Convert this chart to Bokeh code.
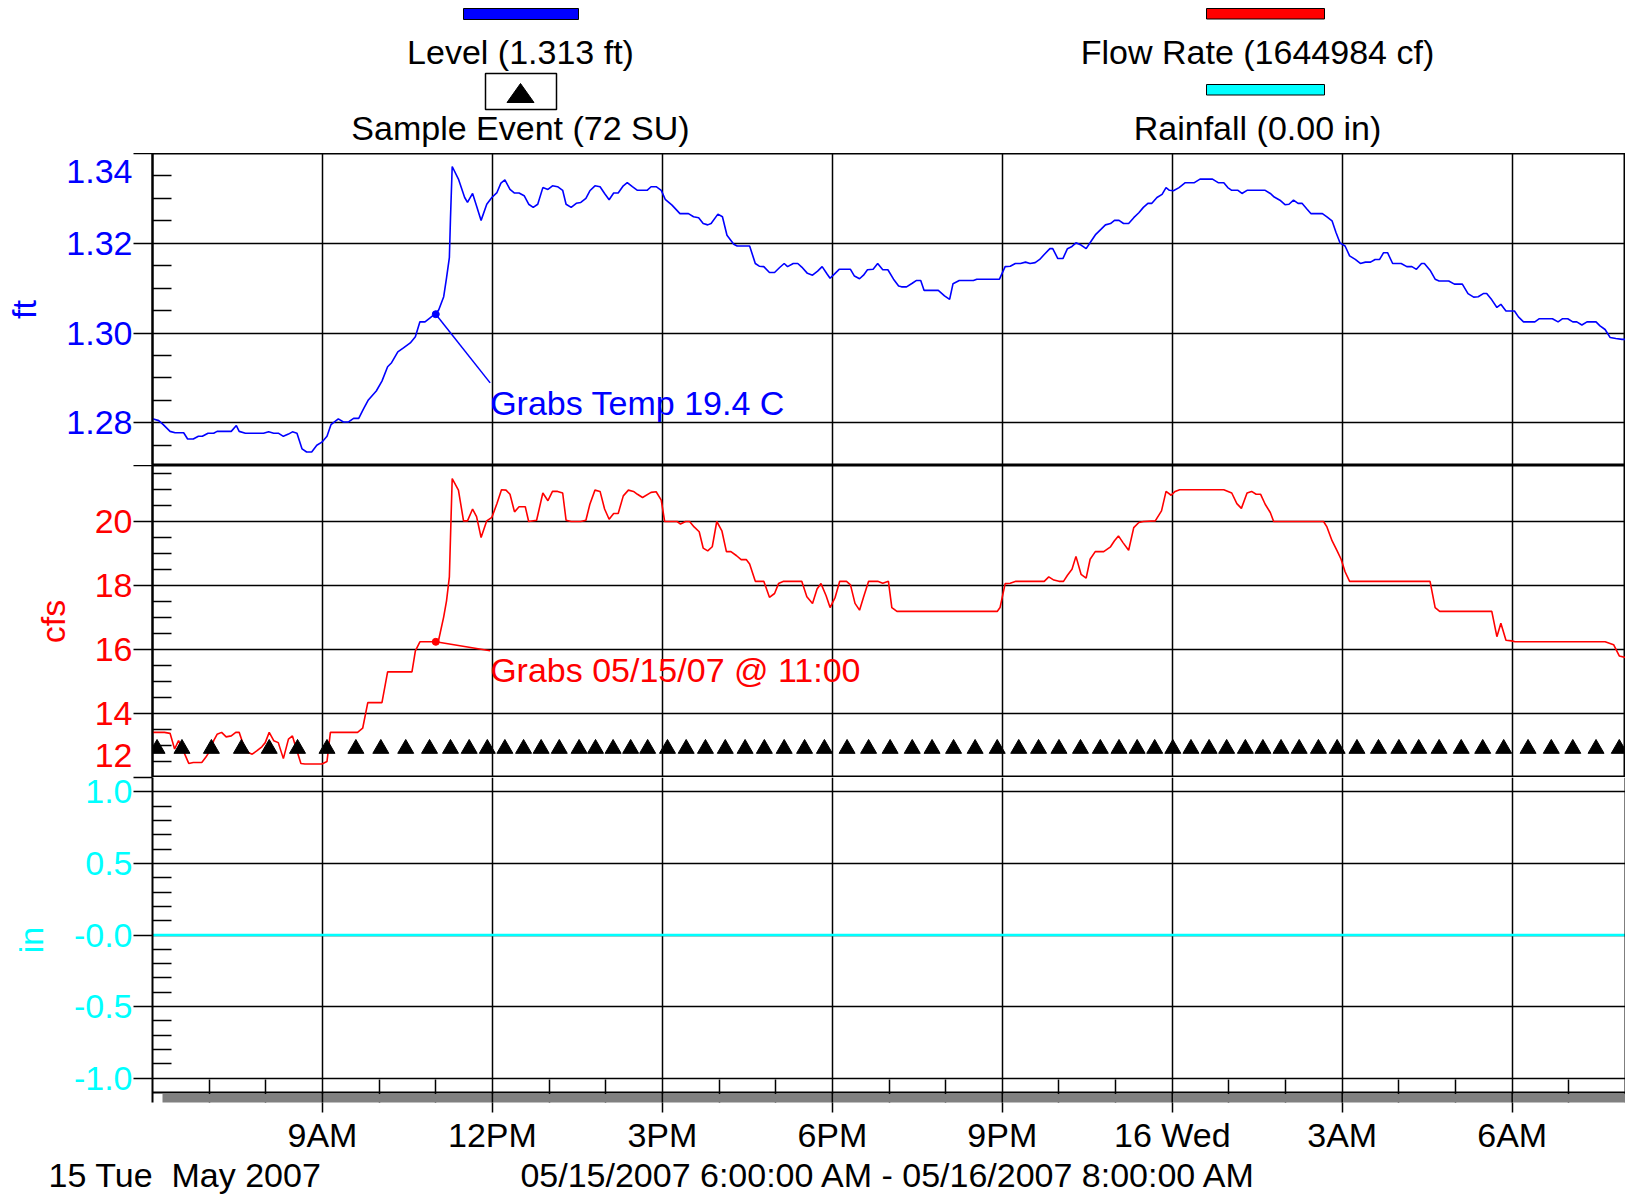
import pandas as pd
from bokeh.plotting import figure
from bokeh.layouts import column
from bokeh.models import Range1d, FixedTicker, LinearAxis, Grid, Span
from bokeh.core.properties import value
from bokeh.embed import file_html
from bokeh.resources import INLINE

# ---------------- data ----------------
start_time = "2007-05-15 06:00"
end_hours = 26.0

level_hours = [0.00, 0.11, 0.19, 0.31, 0.40, 0.55, 0.62, 0.72, 0.81, 0.88, 0.98, 1.08, 1.14, 1.39, 1.48, 1.53,
               1.64, 1.96, 2.05, 2.14, 2.22, 2.31, 2.40, 2.47, 2.55, 2.64, 2.72, 2.81, 2.90, 2.99, 3.08, 3.15,
               3.28, 3.37, 3.46, 3.55, 3.64, 3.72, 3.81, 3.95, 4.05, 4.15, 4.22, 4.33, 4.43, 4.55, 4.64, 4.72,
               4.81, 4.90, 4.98, 5.05, 5.14, 5.19, 5.24, 5.26, 5.29, 5.40, 5.51, 5.56, 5.65, 5.72, 5.80, 5.90,
               5.99, 6.08, 6.15, 6.22, 6.31, 6.39, 6.47, 6.56, 6.64, 6.72, 6.80, 6.89, 6.98, 7.06, 7.15, 7.24,
               7.30, 7.39, 7.48, 7.56, 7.65, 7.72, 7.81, 7.90, 7.98, 8.06, 8.14, 8.22, 8.31, 8.38, 8.47, 8.56,
               8.73, 8.80, 8.89, 8.98, 9.05, 9.17, 9.31, 9.46, 9.55, 9.64, 9.72, 9.80, 9.86, 9.98, 10.06, 10.14,
               10.26, 10.32, 10.54, 10.64, 10.71, 10.79, 10.89, 10.98, 11.07, 11.15, 11.21, 11.31, 11.39, 11.46,
               11.56, 11.65, 11.74, 11.82, 11.91, 11.96, 12.04, 12.12, 12.32, 12.39, 12.48, 12.55, 12.62, 12.72,
               12.80, 12.89, 12.98, 13.08, 13.17, 13.22, 13.31, 13.41, 13.48, 13.56, 13.62, 13.87, 13.98, 14.07,
               14.13, 14.24, 14.49, 14.55, 14.95, 15.05, 15.14, 15.23, 15.32, 15.41, 15.49, 15.58, 15.66, 15.74,
               15.84, 15.89, 15.98, 16.07, 16.15, 16.23, 16.30, 16.39, 16.48, 16.57, 16.65, 16.74, 16.82, 16.91,
               16.98, 17.06, 17.14, 17.23, 17.32, 17.41, 17.49, 17.57, 17.64, 17.73, 17.82, 17.89, 17.95, 18.02,
               18.12, 18.23, 18.39, 18.49, 18.71, 18.81, 18.91, 18.98, 19.05, 19.16, 19.23, 19.32, 19.64, 19.73,
               19.80, 19.90, 19.99, 20.06, 20.14, 20.22, 20.29, 20.38, 20.45, 20.65, 20.73, 20.82, 20.89, 20.96,
               21.05, 21.13, 21.23, 21.32, 21.41, 21.50, 21.58, 21.66, 21.73, 21.80, 21.89, 22.04, 22.14, 22.23,
               22.31, 22.40, 22.45, 22.55, 22.64, 22.71, 22.88, 22.98, 23.12, 23.22, 23.32, 23.40, 23.49, 23.55,
               23.64, 23.73, 23.80, 23.89, 24.04, 24.11, 24.20, 24.40, 24.48, 24.71, 24.81, 24.89, 24.98, 25.07,
               25.14, 25.23, 25.32, 25.48, 25.55, 25.64, 25.73, 25.83, 25.94, 26.00]
level_ft = [1.2809, 1.2805, 1.2796, 1.2781, 1.2778, 1.2778, 1.2764, 1.2764, 1.2770, 1.2770, 1.2777, 1.2777, 1.2781, 1.2781, 1.2794, 1.2781,
            1.2777, 1.2777, 1.2780, 1.2777, 1.2777, 1.2770, 1.2775, 1.2780, 1.2777, 1.2742, 1.2735, 1.2735, 1.2750, 1.2757, 1.2770, 1.2796,
            1.2809, 1.2802, 1.2802, 1.2810, 1.2810, 1.2830, 1.2851, 1.2871, 1.2893, 1.2925, 1.2934, 1.2958, 1.2967, 1.2978, 1.2992, 1.3025,
            1.3025, 1.3034, 1.3042, 1.3051, 1.3081, 1.3123, 1.3168, 1.3257, 1.3371, 1.3343, 1.3302, 1.3291, 1.3311, 1.3283, 1.3251, 1.3287,
            1.3302, 1.3313, 1.3334, 1.3341, 1.3320, 1.3312, 1.3312, 1.3306, 1.3287, 1.3280, 1.3287, 1.3324, 1.3320, 1.3328, 1.3326, 1.3318,
            1.3287, 1.3280, 1.3289, 1.3291, 1.3300, 1.3317, 1.3328, 1.3326, 1.3311, 1.3297, 1.3312, 1.3312, 1.3328, 1.3335, 1.3326, 1.3318,
            1.3318, 1.3326, 1.3326, 1.3318, 1.3298, 1.3285, 1.3266, 1.3266, 1.3259, 1.3257, 1.3244, 1.3241, 1.3244, 1.3265, 1.3259, 1.3218,
            1.3198, 1.3194, 1.3194, 1.3155, 1.3149, 1.3148, 1.3135, 1.3135, 1.3146, 1.3155, 1.3148, 1.3155, 1.3155, 1.3147,
            1.3133, 1.3129, 1.3138, 1.3148, 1.3131, 1.3122, 1.3132, 1.3142, 1.3142, 1.3127, 1.3121, 1.3129, 1.3141, 1.3142,
            1.3155, 1.3141, 1.3141, 1.3120, 1.3105, 1.3103, 1.3103, 1.3111, 1.3117, 1.3117, 1.3095, 1.3095, 1.3083, 1.3075,
            1.3110, 1.3117, 1.3117, 1.3120, 1.3120, 1.3148, 1.3149, 1.3155, 1.3155, 1.3158, 1.3155, 1.3157, 1.3164, 1.3175,
            1.3188, 1.3188, 1.3166, 1.3166, 1.3188, 1.3193, 1.3201, 1.3196, 1.3188, 1.3205, 1.3220, 1.3231, 1.3241, 1.3244,
            1.3251, 1.3251, 1.3244, 1.3244, 1.3257, 1.3268, 1.3280, 1.3289, 1.3289, 1.3302, 1.3309, 1.3324, 1.3318, 1.3317,
            1.3324, 1.3335, 1.3335, 1.3343, 1.3343, 1.3335, 1.3335, 1.3324, 1.3318, 1.3318, 1.3311, 1.3318, 1.3318, 1.3311,
            1.3303, 1.3296, 1.3286, 1.3287, 1.3296, 1.3289, 1.3289, 1.3276, 1.3266, 1.3266, 1.3259, 1.3250, 1.3224, 1.3201,
            1.3194, 1.3172, 1.3164, 1.3155, 1.3158, 1.3158, 1.3164, 1.3164, 1.3179, 1.3179, 1.3155, 1.3155, 1.3148, 1.3148,
            1.3142, 1.3155, 1.3155, 1.3140, 1.3120, 1.3116, 1.3116, 1.3109, 1.3109, 1.3088, 1.3080, 1.3081, 1.3088, 1.3088,
            1.3074, 1.3057, 1.3064, 1.3049, 1.3049, 1.3036, 1.3025, 1.3025, 1.3032, 1.3032, 1.3025, 1.3032, 1.3032, 1.3025,
            1.3025, 1.3018, 1.3025, 1.3025, 1.3016, 1.3008, 1.2990, 1.2988, 1.2986, 1.2986]

flow_hours = [0.00, 0.21, 0.31, 0.39, 0.46, 0.55, 0.64, 0.72, 0.87, 0.94, 1.02, 1.08, 1.14, 1.22, 1.30, 1.39,
              1.47, 1.53, 1.61, 1.69, 1.76, 1.84, 1.93, 1.99, 2.06, 2.14, 2.22, 2.31, 2.40, 2.47, 2.55, 2.62,
              2.69, 2.99, 3.08, 3.14, 3.62, 3.71, 3.80, 4.05, 4.15, 4.58, 4.64, 4.72, 4.98, 5.05, 5.14, 5.19,
              5.24, 5.27, 5.29, 5.40, 5.49, 5.56, 5.65, 5.72, 5.80, 5.90, 5.99, 6.08, 6.16, 6.24, 6.31, 6.39,
              6.47, 6.58, 6.64, 6.78, 6.89, 6.98, 7.06, 7.15, 7.24, 7.30, 7.39, 7.56, 7.65, 7.72, 7.81, 7.90,
              7.98, 8.06, 8.14, 8.22, 8.31, 8.40, 8.49, 8.56, 8.65, 8.80, 8.89, 8.98, 9.04, 9.26, 9.32, 9.41,
              9.48, 9.56, 9.65, 9.72, 9.80, 9.88, 9.96, 10.05, 10.13, 10.21, 10.31, 10.39, 10.48, 10.54, 10.64,
              10.79, 10.89, 10.98, 11.05, 11.14, 11.46, 11.55, 11.65, 11.73, 11.80, 11.89, 11.96, 12.05, 12.13,
              12.25, 12.32, 12.40, 12.48, 12.55, 12.64, 12.80, 12.89, 12.99, 13.05, 13.14, 14.91, 14.96, 15.05,
              15.14, 15.24, 15.74, 15.82, 15.91, 16.00, 16.08, 16.15, 16.23, 16.30, 16.39, 16.48, 16.55, 16.64,
              16.79, 16.91, 16.98, 17.05, 17.13, 17.23, 17.32, 17.41, 17.49, 17.70, 17.81, 17.89, 17.98, 18.05,
              18.13, 18.91, 19.05, 19.14, 19.22, 19.32, 19.40, 19.48, 19.56, 19.64, 19.73, 19.79, 20.67, 20.73,
              20.82, 20.91, 20.98, 21.05, 21.13, 22.55, 22.64, 22.72, 23.64, 23.73, 23.80, 23.89, 23.99, 24.05,
              25.64, 25.79, 25.89, 26.00]
flow_cfs = [13.41, 13.41, 13.38, 12.89, 13.15, 12.81, 12.44, 12.47, 12.47, 12.63, 12.85, 13.15, 13.35, 13.41, 13.27, 13.30,
            13.41, 13.41, 12.99, 12.78, 12.73, 12.83, 12.96, 13.09, 13.41, 13.15, 13.09, 12.59, 13.20, 13.30, 12.83, 12.44,
            12.42, 12.42, 12.50, 13.41, 13.41, 13.54, 14.34, 14.34, 15.30, 15.30, 15.96, 16.24, 16.24, 16.29, 17.02, 17.52,
            18.27, 20.13, 21.34, 20.98, 20.02, 20.02, 20.39, 20.15, 19.50, 20.02, 20.13, 20.56, 20.99, 20.98, 20.85, 20.30,
            20.46, 20.46, 20.00, 20.04, 20.89, 20.65, 20.94, 20.94, 20.89, 20.04, 20.00, 20.00, 20.04, 20.54, 20.98, 20.94,
            20.39, 20.07, 20.25, 20.25, 20.80, 20.98, 20.94, 20.85, 20.75, 20.91, 20.93, 20.67, 20.00, 20.00, 19.92, 20.00,
            20.00, 19.83, 19.68, 19.17, 19.08, 19.21, 20.00, 19.71, 19.06, 19.06, 18.93, 18.81, 18.81, 18.67, 18.13,
            18.13, 17.63, 17.75, 18.06, 18.13, 18.13, 17.65, 17.44, 17.89, 18.06, 17.68, 17.31, 17.63, 18.13,
            18.13, 18.02, 17.44, 17.23, 17.63, 18.13, 18.13, 18.07, 18.13, 17.31, 17.19, 17.19, 17.31, 18.06,
            18.07, 18.13, 18.13, 18.27, 18.17, 18.13, 18.13, 18.32, 18.51, 18.91, 18.35, 18.23, 18.82, 19.06,
            19.06, 19.21, 19.40, 19.55, 19.34, 19.10, 19.81, 19.97, 20.00, 20.02, 20.33, 20.94, 20.82, 20.94,
            20.99, 20.99, 20.89, 20.56, 20.41, 20.89, 20.94, 20.85, 20.85, 20.54, 20.28, 20.00, 20.00, 19.83,
            19.40, 19.08, 18.82, 18.43, 18.13, 18.13, 17.31, 17.19, 17.19, 16.40, 16.82, 16.29, 16.27, 16.24,
            16.24, 16.15, 15.80, 15.75]

rain_hours = [0.0, 26.0]
rain_in = [0.0, 0.0]

sample_hours = [0.08, 0.52, 1.04, 1.57, 2.06, 2.56, 3.08, 3.59, 4.03, 4.47, 4.89, 5.26, 5.59, 5.91, 6.22, 6.55,
                6.86, 7.18, 7.53, 7.82, 8.13, 8.44, 8.74, 9.09, 9.42, 9.76, 10.11, 10.46, 10.80, 11.15, 11.51,
                11.86, 12.26, 12.64, 13.02, 13.41, 13.76, 14.14, 14.52, 14.91, 15.29, 15.64, 16.00, 16.38, 16.73,
                17.06, 17.38, 17.69, 18.01, 18.33, 18.65, 18.96, 19.29, 19.60, 19.92, 20.24, 20.58, 20.91, 21.26,
                21.64, 22.00, 22.35, 22.71, 23.10, 23.48, 23.85, 24.28, 24.69, 25.07, 25.48, 25.89]

grab_hour = 5.0
grab_level_ft = 1.3042
grab_flow_cfs = 16.24
grab_notes = ["Grabs Temp 19.4 C", "Grabs 05/15/07 @ 11:00"]

legend_labels = ["Level (1.313 ft)", "Sample Event (72 SU)", "Flow Rate (1644984 cf)", "Rainfall (0.00 in)"]

level_ticks = [1.28, 1.30, 1.32, 1.34]
level_tick_labels = ["1.28", "1.30", "1.32", "1.34"]
flow_ticks = [12, 14, 16, 18, 20]
flow_tick_labels = ["12", "14", "16", "18", "20"]
rain_ticks = [-1.0, -0.5, 0.0, 0.5, 1.0]
rain_tick_labels = ["-1.0", "-0.5", "-0.0", "0.5", "1.0"]
time_tick_hours = [3, 6, 9, 12, 15, 18, 21, 24]
time_tick_labels = ["9AM", "12PM", "3PM", "6PM", "9PM", "16 Wed", "3AM", "6AM"]
captions = ["15 Tue\u00a0 May 2007", "05/15/2007 6:00:00 AM - 05/16/2007 8:00:00 AM"]

# ---------------- style / layout ----------------
W = 1625
FRAME_L = 152
LEG_H = 153
PANEL_H = 312
RAIN_FRAME_H = 330
RAIN_H = 1196 - LEG_H - 2 * PANEL_H
FONT = "Liberation Sans"
FS = "34px"
BLUE, RED, CYAN = "#0000ff", "#ff0000", "#00ffff"

level_range = (1.2705, 1.34)
flow_range = (12.0, 21.75)
rain_px_per_in = 72.7 / 0.5
rain_range = (1.1 - RAIN_FRAME_H / rain_px_per_in, 1.1)
rain_axis_at = -1.1
sample_marker_cfs = 12.9
note_hour = 5.96
level_note_y = 1.2886
flow_note_y = 15.96
caption_hours = [0.574, 13.0]
label_shift = {"level": 1.3359, "flow": 12.68}

T0 = pd.Timestamp(start_time)
MS_H = 3600000.0
t0ms = T0.value / 1e6


def ms(hours):
    return [t0ms + h * MS_H for h in hours]


xr = Range1d(t0ms, t0ms + end_hours * MS_H)
x_ticker = FixedTicker(ticks=ms(time_tick_hours),
                       minor_ticks=ms([h for h in range(1, 26) if h % 3]))


def base_fig(height, x_range, y_range, border_left=0, bottom=0, outline=None):
    p = figure(width=W, height=height, x_range=x_range, y_range=y_range,
               toolbar_location=None, output_backend="svg",
               x_axis_location=None, y_axis_location=None,
               min_border_left=border_left, min_border_right=0, min_border_top=0,
               min_border_bottom=bottom, outline_line_color=outline, outline_line_width=2,
               background_fill_color="white", border_fill_color="white")
    p.center = [r for r in p.center if not isinstance(r, Grid)]
    return p


def panel(height, yr, grid_ticks, minor, label_ticks, labels, color, axis_label, label_standoff,
          bottom=0, outline="black"):
    p = base_fig(height, xr, Range1d(*yr), FRAME_L, bottom, outline)
    yt = FixedTicker(ticks=grid_ticks, minor_ticks=minor)
    tick_axis = LinearAxis(ticker=yt, major_label_overrides={t: "" for t in grid_ticks},
                           axis_line_color="black", axis_line_width=2,
                           major_tick_line_color="black", major_tick_line_width=1.5,
                           major_tick_in=0, major_tick_out=19,
                           minor_tick_line_color="black", minor_tick_line_width=1.5,
                           minor_tick_in=19, minor_tick_out=0,
                           major_label_standoff=0, major_label_text_font_size="1px")
    label_axis = LinearAxis(ticker=FixedTicker(ticks=label_ticks, minor_ticks=[]),
                            major_label_overrides=dict(zip(label_ticks, labels)),
                            axis_line_color=None, major_tick_line_color=None,
                            minor_tick_line_color=None, major_tick_in=0, major_tick_out=0,
                            minor_tick_in=0, minor_tick_out=0,
                            major_label_text_font=FONT, major_label_text_font_size=FS,
                            major_label_text_color=color, major_label_standoff=1,
                            axis_label=axis_label, axis_label_standoff=label_standoff,
                            axis_label_text_font=FONT, axis_label_text_font_size=FS,
                            axis_label_text_color=color, axis_label_text_font_style="normal")
    p.add_layout(tick_axis, "left")
    p.add_layout(label_axis, "left")
    p.add_layout(Grid(dimension=1, ticker=yt, grid_line_color="black", grid_line_width=1.5))
    p.add_layout(Grid(dimension=0, ticker=x_ticker, grid_line_color="black", grid_line_width=1.5))
    return p


# ---------- legend strip ----------
lg = base_fig(LEG_H, Range1d(FRAME_L, W), Range1d(LEG_H, 0))
lg.quad(left=[463, 1206], right=[578, 1324], top=[8, 8], bottom=[19, 18.5],
        fill_color=[BLUE, RED], line_color="black", line_width=1)
lg.quad(left=[1206], right=[1324], top=[84], bottom=[94.5], fill_color=[CYAN],
        line_color="black", line_width=1)
lg.quad(left=[485], right=[556], top=[73], bottom=[109], fill_color="white",
        line_color="black", line_width=1.5)
lg.patch(x=[506.5, 533.5, 520], y=[102, 102, 83], fill_color="black", line_color="black")
lg.text(x=[520, 520, 1257, 1257], y=[51, 127, 51, 127], text=legend_labels,
        text_font=value(FONT), text_font_size=FS, text_align="center",
        text_baseline="middle", text_color="black")

# ---------- level panel ----------
p1 = panel(PANEL_H, level_range, level_ticks,
           [1.275, 1.285, 1.29, 1.295, 1.305, 1.31, 1.315, 1.325, 1.33, 1.335],
           level_ticks[:-1] + [label_shift["level"]], level_tick_labels, BLUE, "ft", 20)
p1.line(ms(level_hours), level_ft, line_color=BLUE, line_width=1.6)
p1.line(ms([grab_hour, note_hour]), [grab_level_ft, level_note_y + 0.0003], line_color=BLUE, line_width=1.5)
p1.scatter(ms([grab_hour]), [grab_level_ft], size=7, color=BLUE)
p1.text(ms([note_hour]), [level_note_y], text=[grab_notes[0]], text_font=value(FONT),
        text_font_size=FS, text_color=BLUE, text_align="left", text_baseline="top")

# ---------- flow panel ----------
p2 = panel(PANEL_H, flow_range, flow_ticks + [flow_range[1]],
           [12.5, 13, 13.5, 14.5, 15, 15.5, 16.5, 17, 17.5, 18.5, 19, 19.5, 20.5, 21, 21.5],
           [label_shift["flow"]] + flow_ticks[1:], flow_tick_labels, RED, "cfs", 20)
p2.line(ms(flow_hours), flow_cfs, line_color=RED, line_width=1.6)
p2.line(ms([grab_hour, note_hour]), [grab_flow_cfs, flow_note_y], line_color=RED, line_width=1.5)
p2.scatter(ms([grab_hour]), [grab_flow_cfs], size=7, color=RED)
p2.text(ms([note_hour]), [flow_note_y], text=[grab_notes[1]], text_font=value(FONT),
        text_font_size=FS, text_color=RED, text_align="left", text_baseline="top")
p2.scatter(ms(sample_hours), [sample_marker_cfs] * len(sample_hours), marker="triangle",
           size=16, color="black")

# ---------- rain panel ----------
rain_minor = [-0.9, -0.8, -0.7, -0.6, -0.4, -0.3, -0.2, -0.1, 0.1, 0.2, 0.3, 0.4, 0.6, 0.7, 0.8, 0.9]
p3 = panel(RAIN_H, rain_range, rain_ticks + [rain_range[1]], rain_minor,
           rain_ticks, rain_tick_labels, CYAN, "in", 21,
           bottom=RAIN_H - RAIN_FRAME_H, outline=None)
p3.line(ms(rain_hours), rain_in, line_color=CYAN, line_width=2.5)
# x-axis line and its drop shadow
p3.add_layout(Span(location=rain_axis_at, dimension="width", line_color="black", line_width=2))
p3.add_layout(Span(location=xr.end, dimension="height", line_color="black", line_width=2))
shadow_top = rain_axis_at - 1.5 / rain_px_per_in
p3.quad(left=ms([10 / 56.65]), right=[xr.end], top=[shadow_top], bottom=[rain_range[0]],
        fill_color="#808080", line_color=None, level="overlay")
p3.segment(x0=ms(time_tick_hours), x1=ms(time_tick_hours), y0=[rain_axis_at] * len(time_tick_hours),
           y1=[rain_range[0]] * len(time_tick_hours), line_color="black", line_width=1.5, level="overlay")
xa = LinearAxis(ticker=x_ticker,
                major_label_overrides=dict(zip(ms(time_tick_hours), time_tick_labels)),
                axis_line_color=None,
                major_tick_line_color="black", major_tick_line_width=1.5,
                major_tick_in=0, major_tick_out=10,
                minor_tick_line_color="black", minor_tick_line_width=1.5,
                minor_tick_in=23, minor_tick_out=0,
                major_label_text_font=FONT, major_label_text_font_size=FS,
                major_label_text_color="black", major_label_standoff=3)
xb = LinearAxis(ticker=FixedTicker(ticks=ms(caption_hours), minor_ticks=[]),
                major_label_overrides=dict(zip(ms(caption_hours), captions)),
                axis_line_color=None, major_tick_line_color=None, minor_tick_line_color=None,
                major_tick_in=0, major_tick_out=0, minor_tick_in=0, minor_tick_out=0,
                major_label_text_font=FONT, major_label_text_font_size=FS,
                major_label_text_color="black", major_label_standoff=-1)
p3.add_layout(xa, "below")
p3.add_layout(xb, "below")

layout = column(lg, p1, p2, p3, spacing=0)
open("out.html", "w").write(file_html(layout, INLINE))
